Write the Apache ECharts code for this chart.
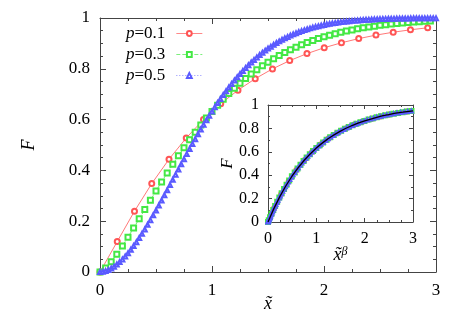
<!DOCTYPE html>
<html>
<head>
<meta charset="utf-8">
<script src="https://cdn.jsdelivr.net/npm/echarts@6/dist/echarts.min.js"></script>
<style>
html, body { margin: 0; padding: 0; background: #fff; }
#chart { width: 463px; height: 327px; }
</style>
</head>
<body>
<div id="chart"></div>
<script>
// main plot: F against x~
var xRed = [0, 0.154, 0.308, 0.462, 0.616, 0.77, 0.924, 1.078, 1.232, 1.386,
  1.54, 1.694, 1.848, 2.002, 2.156, 2.31, 2.464, 2.618, 2.772, 2.926];
var fRed = [0, 0.1199, 0.2395, 0.348, 0.4439, 0.5277, 0.6002, 0.6625, 0.7158, 0.7611,
  0.7997, 0.8323, 0.8598, 0.883, 0.9025, 0.9189, 0.9326, 0.944, 0.9536, 0.9615];

var xGreen = [0, 0.05, 0.1, 0.15, 0.2, 0.25, 0.3, 0.35, 0.4, 0.45,
  0.5, 0.55, 0.6, 0.65, 0.7, 0.75, 0.8, 0.85, 0.9, 0.95,
  1, 1.05, 1.1, 1.15, 1.2, 1.25, 1.3, 1.35, 1.4, 1.45,
  1.5, 1.55, 1.6, 1.65, 1.7, 1.75, 1.8, 1.85, 1.9, 1.95,
  2, 2.05, 2.1, 2.15, 2.2, 2.25, 2.3, 2.35, 2.4, 2.45,
  2.5, 2.55, 2.6, 2.65, 2.7, 2.75, 2.8, 2.85, 2.9, 2.95];
var fGreen = [0, 0.0159, 0.0408, 0.0703, 0.1028, 0.1372, 0.1729, 0.2094, 0.246, 0.2828,
  0.319, 0.3548, 0.39, 0.4241, 0.4574, 0.4895, 0.5205, 0.5503, 0.5788, 0.6061,
  0.6321, 0.6569, 0.6804, 0.7026, 0.7237, 0.7435, 0.7622, 0.7798, 0.7962, 0.8117,
  0.8262, 0.8398, 0.8524, 0.8641, 0.8751, 0.8852, 0.8946, 0.9034, 0.9115, 0.919,
  0.9259, 0.9323, 0.9382, 0.9436, 0.9486, 0.9532, 0.9574, 0.9613, 0.9648, 0.968,
  0.971, 0.9737, 0.9762, 0.9785, 0.9805, 0.9824, 0.9841, 0.9856, 0.9871, 0.9883];

var xBlue = [0, 0.025, 0.05, 0.075, 0.1, 0.125, 0.15, 0.175, 0.2, 0.225,
  0.25, 0.275, 0.3, 0.325, 0.35, 0.375, 0.4, 0.425, 0.45, 0.475,
  0.5, 0.525, 0.55, 0.575, 0.6, 0.625, 0.65, 0.675, 0.7, 0.725,
  0.75, 0.775, 0.8, 0.825, 0.85, 0.875, 0.9, 0.925, 0.95, 0.975,
  1, 1.025, 1.05, 1.075, 1.1, 1.125, 1.15, 1.175, 1.2, 1.225,
  1.25, 1.275, 1.3, 1.325, 1.35, 1.375, 1.4, 1.425, 1.45, 1.475,
  1.5, 1.525, 1.55, 1.575, 1.6, 1.625, 1.65, 1.675, 1.7, 1.725,
  1.75, 1.775, 1.8, 1.825, 1.85, 1.875, 1.9, 1.925, 1.95, 1.975,
  2, 2.025, 2.05, 2.075, 2.1, 2.125, 2.15, 2.175, 2.2, 2.225,
  2.25, 2.275, 2.3, 2.325, 2.35, 2.375, 2.4, 2.425, 2.45, 2.475,
  2.5, 2.525, 2.55, 2.575, 2.6, 2.625, 2.65, 2.675, 2.7, 2.725,
  2.75, 2.775, 2.8, 2.825, 2.85, 2.875, 2.9, 2.925, 2.95, 2.975, 3];
var fBlue = [0, 0.0011, 0.0039, 0.0083, 0.014, 0.0211, 0.0295, 0.039, 0.0497, 0.0614,
  0.0741, 0.0877, 0.1022, 0.1175, 0.1336, 0.1503, 0.1677, 0.1856, 0.2041, 0.223,
  0.2423, 0.2618, 0.2817, 0.3018, 0.3221, 0.3424, 0.3629, 0.3833, 0.4037, 0.424,
  0.4442, 0.4642, 0.4841, 0.5037, 0.5231, 0.5421, 0.5609, 0.5793, 0.5973, 0.615,
  0.6322, 0.6489, 0.6653, 0.6812, 0.6966, 0.7116, 0.7261, 0.7401, 0.7537, 0.7667,
  0.7793, 0.7914, 0.803, 0.8142, 0.8249, 0.8351, 0.8449, 0.8542, 0.8631, 0.8716,
  0.8797, 0.8873, 0.8946, 0.9015, 0.908, 0.9142, 0.92, 0.9255, 0.9307, 0.9356,
  0.9402, 0.9445, 0.9485, 0.9523, 0.9559, 0.9592, 0.9623, 0.9652, 0.9679, 0.9705,
  0.9728, 0.975, 0.977, 0.9789, 0.9807, 0.9823, 0.9838, 0.9852, 0.9864, 0.9876,
  0.9887, 0.9897, 0.9906, 0.9915, 0.9922, 0.9929, 0.9936, 0.9942, 0.9947, 0.9952,
  0.9957, 0.9961, 0.9965, 0.9968, 0.9971, 0.9974, 0.9977, 0.9979, 0.9981, 0.9983,
  0.9985, 0.9987, 0.9988, 0.9989, 0.999, 0.9991, 0.9992, 0.9993, 0.9994, 0.9995, 0.9995];

// inset: F against x~^beta (same points, only those up to 3)
var uRed = [0, 0.1277, 0.2738, 0.4277, 0.5868, 0.7501, 0.9168, 1.0861, 1.258, 1.4319,
  1.608, 1.7857, 1.965, 2.1459, 2.3283, 2.5115, 2.6966, 2.8823];
var uGreen = [0, 0.016, 0.0417, 0.0729, 0.1085, 0.1476, 0.1898, 0.2349, 0.2824, 0.3323,
  0.3842, 0.4382, 0.4942, 0.5518, 0.6113, 0.6723, 0.735, 0.7991, 0.8647, 0.9317,
  1, 1.0697, 1.1406, 1.2127, 1.2861, 1.3606, 1.4363, 1.5131, 1.5909, 1.6699,
  1.7498, 1.8308, 1.9129, 1.9958, 2.0798, 2.1648, 2.2506, 2.3374, 2.4248, 2.5133,
  2.6027, 2.6929, 2.784, 2.8759, 2.9686];
var uBlue = [0, 0.00109, 0.00392, 0.0083, 0.01413, 0.02135, 0.02992, 0.0398, 0.05093, 0.0633,
  0.07695, 0.0918, 0.1078, 0.125, 0.1434, 0.1629, 0.1836, 0.2053, 0.2283, 0.2523,
  0.2774, 0.3036, 0.3309, 0.3592, 0.3887, 0.4191, 0.4508, 0.4833, 0.517, 0.5516,
  0.5873, 0.624, 0.6618, 0.7006, 0.7405, 0.7811, 0.823, 0.8658, 0.9096, 0.9544,
  1.0002, 1.0467, 1.0945, 1.1432, 1.1928, 1.2435, 1.2951, 1.3476, 1.4012, 1.4556,
  1.5111, 1.5675, 1.6248, 1.6831, 1.7423, 1.8025, 1.8636, 1.9256, 1.9886, 2.0525,
  2.1173, 2.1831, 2.2497, 2.3172, 2.3857, 2.4551, 2.5255, 2.5968, 2.6689, 2.742,
  2.816, 2.8908, 2.9666];
// fitted curve in the inset
var tFit = [0, 0.25, 0.5, 0.75, 1, 1.25, 1.5, 1.75, 2, 2.25, 2.5, 2.75, 3];
var fFit = [0, 0.2212, 0.3935, 0.5276, 0.6321, 0.7135, 0.7769, 0.8262, 0.8647, 0.8946, 0.9179, 0.9361, 0.9502];

var names = ['p=0.1', 'p=0.3', 'p=0.5'];
var xTicks = [0, 1, 2, 3];
var fTicks = [0, 0.2, 0.4, 0.6, 0.8, 1];

function pairs(xs, ys) {
  var out = [];
  for (var i = 0; i < xs.length; i++) out.push([xs[i], ys[i]]);
  return out;
}

var FONT = 'Liberation Serif';
var boxColor = '#444';
var RED = '#ff5555', GREEN = '#44e844', BLUE = '#5a5aff';

function axisBox(type, grid, pos, min, max, step, showLabel, big) {
  return {
    type: 'value',
    gridIndex: grid,
    position: pos,
    min: min,
    max: max,
    interval: step,
    axisLine: { show: true, onZero: false, lineStyle: { color: boxColor, width: 1 } },
    axisTick: { show: true, inside: true, length: big ? 6 : 4, lineStyle: { color: boxColor } },
    minorTick: { show: true, splitNumber: type == 'x' ? 4 : (big ? 4 : 2), length: big ? 3 : 2, lineStyle: { color: boxColor } },
    splitLine: { show: false },
    axisLabel: {
      show: showLabel,
      margin: big ? 10 : 9,
      color: '#000',
      fontFamily: FONT,
      fontSize: big ? 17 : 16
    }
  };
}

var xMain = axisBox('x', 0, 'bottom', xTicks[0], xTicks[3], 1, true, true);
xMain.name = '{i|x\u0303}';
xMain.nameLocation = 'middle';
xMain.nameGap = 23;
xMain.nameMoveOverlap = false;
xMain.nameTextStyle = { rich: { i: { fontFamily: FONT, fontStyle: 'italic', fontSize: 18, color: '#000' } } };

var yMain = axisBox('y', 0, 'left', fTicks[0], fTicks[5], 0.2, true, true);
yMain.name = 'F';
yMain.nameLocation = 'middle';
yMain.nameRotate = 90;
yMain.nameGap = 62;
yMain.nameMoveOverlap = false;
yMain.nameTextStyle = { fontFamily: FONT, fontStyle: 'italic', fontSize: 18, color: '#000' };

var xIn = axisBox('x', 1, 'bottom', xTicks[0], xTicks[3], 1, true, false);
xIn.name = '{i|x\u0303}{s|\u03b2}';
xIn.nameLocation = 'middle';
xIn.nameGap = 24;
xIn.nameMoveOverlap = false;
xIn.nameTextStyle = {
  rich: {
    i: { fontFamily: FONT, fontStyle: 'italic', fontSize: 18, color: '#000' },
    s: { fontFamily: FONT, fontStyle: 'italic', fontSize: 12, color: '#000', verticalAlign: 'top' }
  }
};

var yIn = axisBox('y', 1, 'left', fTicks[0], fTicks[5], 0.2, true, false);
yIn.name = 'F';
yIn.nameLocation = 'middle';
yIn.nameRotate = 90;
yIn.nameGap = 32;
yIn.nameMoveOverlap = false;
yIn.nameTextStyle = { fontFamily: FONT, fontStyle: 'italic', fontSize: 17, color: '#000' };

function mark(color, w) {
  return { color: color, borderColor: color, borderWidth: w };
}

var option = {
  animation: false,
  backgroundColor: '#fff',
  grid: [
    { left: 100, top: 18, width: 336, height: 254 },
    { left: 268, top: 105, width: 145, height: 117 }
  ],
  legend: {
    data: names,
    orient: 'vertical',
    left: 121,
    top: 20,
    align: 'right',
    itemWidth: 26,
    itemHeight: 6,
    itemGap: 4,
    itemStyle: { borderWidth: 0.7 },
    lineStyle: { width: 0.7 },
    formatter: function (name) {
      return '{i|p}{n|' + name.slice(1) + '}';
    },
    textStyle: {
      padding: [0, 6, 0, 0],
      rich: {
        i: { fontFamily: FONT, fontStyle: 'italic', fontSize: 17, color: '#000' },
        n: { fontFamily: FONT, fontSize: 17, color: '#000' }
      }
    }
  },
  xAxis: [
    xMain,
    axisBox('x', 0, 'top', xTicks[0], xTicks[3], 1, false, true),
    xIn,
    axisBox('x', 1, 'top', xTicks[0], xTicks[3], 1, false, false)
  ],
  yAxis: [
    yMain,
    axisBox('y', 0, 'right', fTicks[0], fTicks[5], 0.2, false, true),
    yIn,
    axisBox('y', 1, 'right', fTicks[0], fTicks[5], 0.2, false, false)
  ],
  series: [
    {
      name: names[0], type: 'line', xAxisIndex: 0, yAxisIndex: 0,
      data: pairs(xRed, fRed),
      symbol: 'emptyCircle', symbolSize: 5,
      itemStyle: mark(RED, 0.7),
      lineStyle: { color: RED, width: 0.8, type: 'solid' }
    },
    {
      name: names[1], type: 'line', xAxisIndex: 0, yAxisIndex: 0,
      data: pairs(xGreen, fGreen),
      symbol: 'emptyRect', symbolSize: 5,
      itemStyle: mark(GREEN, 0.7),
      lineStyle: { color: GREEN, width: 0.8, type: [4, 2] }
    },
    {
      name: names[2], type: 'line', xAxisIndex: 0, yAxisIndex: 0,
      data: pairs(xBlue, fBlue),
      symbol: 'emptyTriangle', symbolSize: 4,
      itemStyle: mark(BLUE, 0.5),
      lineStyle: { color: BLUE, width: 0.8, type: [1, 2] }
    },
    {
      name: names[0], type: 'line', xAxisIndex: 2, yAxisIndex: 2,
      data: pairs(uRed, fRed),
      symbol: 'emptyCircle', symbolSize: 4,
      itemStyle: mark(RED, 0.7),
      lineStyle: { width: 0 }
    },
    {
      name: names[1], type: 'line', xAxisIndex: 2, yAxisIndex: 2,
      data: pairs(uGreen, fGreen),
      symbol: 'emptyRect', symbolSize: 4,
      itemStyle: mark(GREEN, 0.7),
      lineStyle: { width: 0 }
    },
    {
      name: names[2], type: 'line', xAxisIndex: 2, yAxisIndex: 2,
      data: pairs(uBlue, fBlue),
      symbol: 'emptyTriangle', symbolSize: 3,
      itemStyle: mark(BLUE, 0.5),
      lineStyle: { width: 0 }
    },
    {
      name: 'fit', type: 'line', xAxisIndex: 2, yAxisIndex: 2,
      data: pairs(tFit, fFit),
      smooth: true, showSymbol: false, z: 5,
      lineStyle: { color: '#000', width: 1.3 }
    }
  ]
};

var chart = echarts.init(document.getElementById('chart'));
chart.setOption(option);
</script>
</body>
</html>
